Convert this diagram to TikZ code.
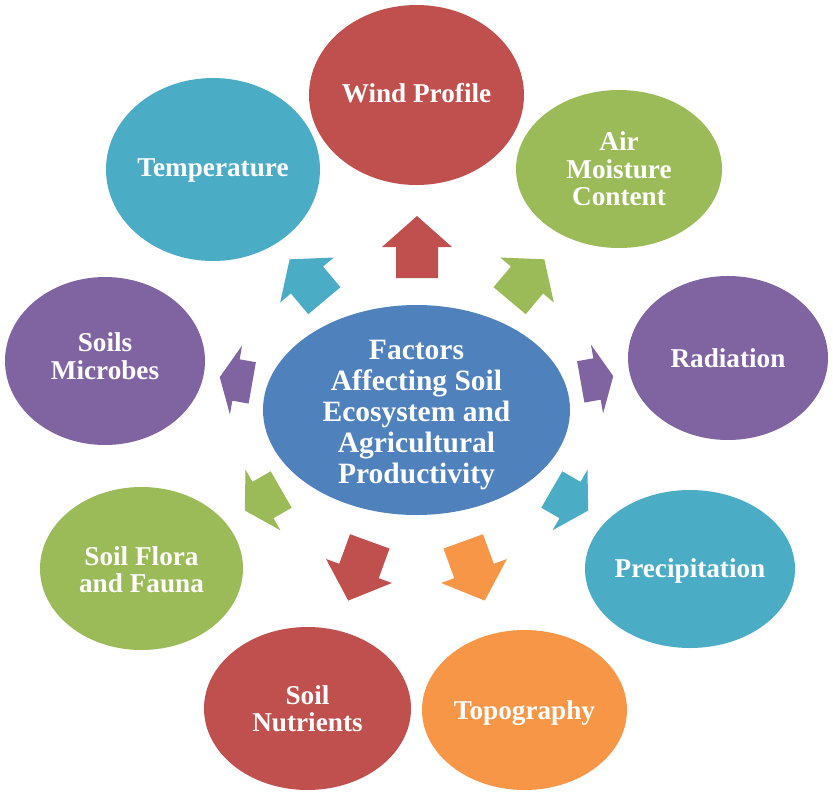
\documentclass[tikz,border=0pt]{standalone}
\usepackage{fontspec}
\setmainfont{Liberation Serif}
\usetikzlibrary{shapes.geometric}
\definecolor{cred}{HTML}{C0504D}
\definecolor{cgreen}{HTML}{9BBB59}
\definecolor{cpurple}{HTML}{8064A2}
\definecolor{caqua}{HTML}{4BACC6}
\definecolor{corange}{HTML}{F79646}
\definecolor{cblue}{HTML}{4F81BD}
\tikzset{
  bub/.style={ellipse, inner sep=0pt},
  btext/.style={inner sep=0pt, text=white, align=center,
    font=\fontsize{27.2}{27.5}\selectfont\bfseries},
  htext/.style={btext, font=\fontsize{29.5}{31}\selectfont\bfseries},
  blockarrow/.style={draw=none}
}
\begin{document}
\begin{tikzpicture}[x=1pt,y=-1pt]
\useasboundingbox (0,0) rectangle (833,796);
% centre
\node[bub, fill=cblue, minimum width=307pt, minimum height=210pt] (hubnode) at (416.5,410) {};
\node[htext] (hubtext) at (416.5,415)
  {Factors\\Affecting Soil\\Ecosystem and\\Agricultural\\Productivity};
% outer ellipses
\node[bub, fill=cred, minimum width=215pt, minimum height=180pt] (wind) at (416.5,95) {};
\node[btext] (windt) at (416.5,93) {Wind Profile};
\node[bub, fill=cgreen, minimum width=206pt, minimum height=158pt] (air) at (619,169) {};
\node[btext] (airt) at (619,169) {Air\\Moisture\\Content};
\node[bub, fill=caqua, minimum width=214pt, minimum height=183pt] (temp) at (213,169.5) {};
\node[btext] (tempt) at (213,170) {Temperature};
\node[bub, fill=cpurple, minimum width=200pt, minimum height=164pt] (rad) at (728,358) {};
\node[btext] (radt) at (728,358) {Radiation};
\node[bub, fill=cpurple, minimum width=200pt, minimum height=168pt] (mic) at (105,361) {};
\node[btext] (mict) at (105,356) {Soils\\Microbes};
\node[bub, fill=caqua, minimum width=210pt, minimum height=158pt] (prec) at (690,569) {};
\node[btext] (prect) at (690,570.5) {Precipitation};
\node[bub, fill=cgreen, minimum width=203pt, minimum height=163pt] (flora) at (141.5,568.5) {};
\node[btext] (florat) at (141.5,569.5) {Soil Flora\\and Fauna};
\node[bub, fill=corange, minimum width=205pt, minimum height=160pt] (topo) at (524.5,710) {};
\node[btext] (topot) at (524.5,713) {Topography};
\node[bub, fill=cred, minimum width=207pt, minimum height=163pt] (nutr) at (307.5,708.5) {};
\node[btext] (nutrt) at (307.5,708.5) {Soil\\Nutrients};
% block arrows: x / y / angle / length / colour
\foreach \px/\py/\ang/\len/\col in {417/247/90/62/cred, 527/280/50/54/cgreen, 597/379/10/33/cpurple,
    570/500/-30/42/caqua, 474/571/-70/63/corange, 359/571/-110/63/cred, 263/500/-150/42/cgreen,
    236/380/170/33/cpurple, 307/280/130/54/caqua}{
  \pgfmathsetmacro{\hl}{\len/2}
  \fill[blockarrow, \col, shift={(\px,\py)}, rotate=\ang]
    (-\hl,-21) -- (0,-21) -- (0,-35) -- (\hl,0) -- (0,35) -- (0,21) -- (-\hl,21) -- cycle;
}
\end{tikzpicture}
\end{document}
